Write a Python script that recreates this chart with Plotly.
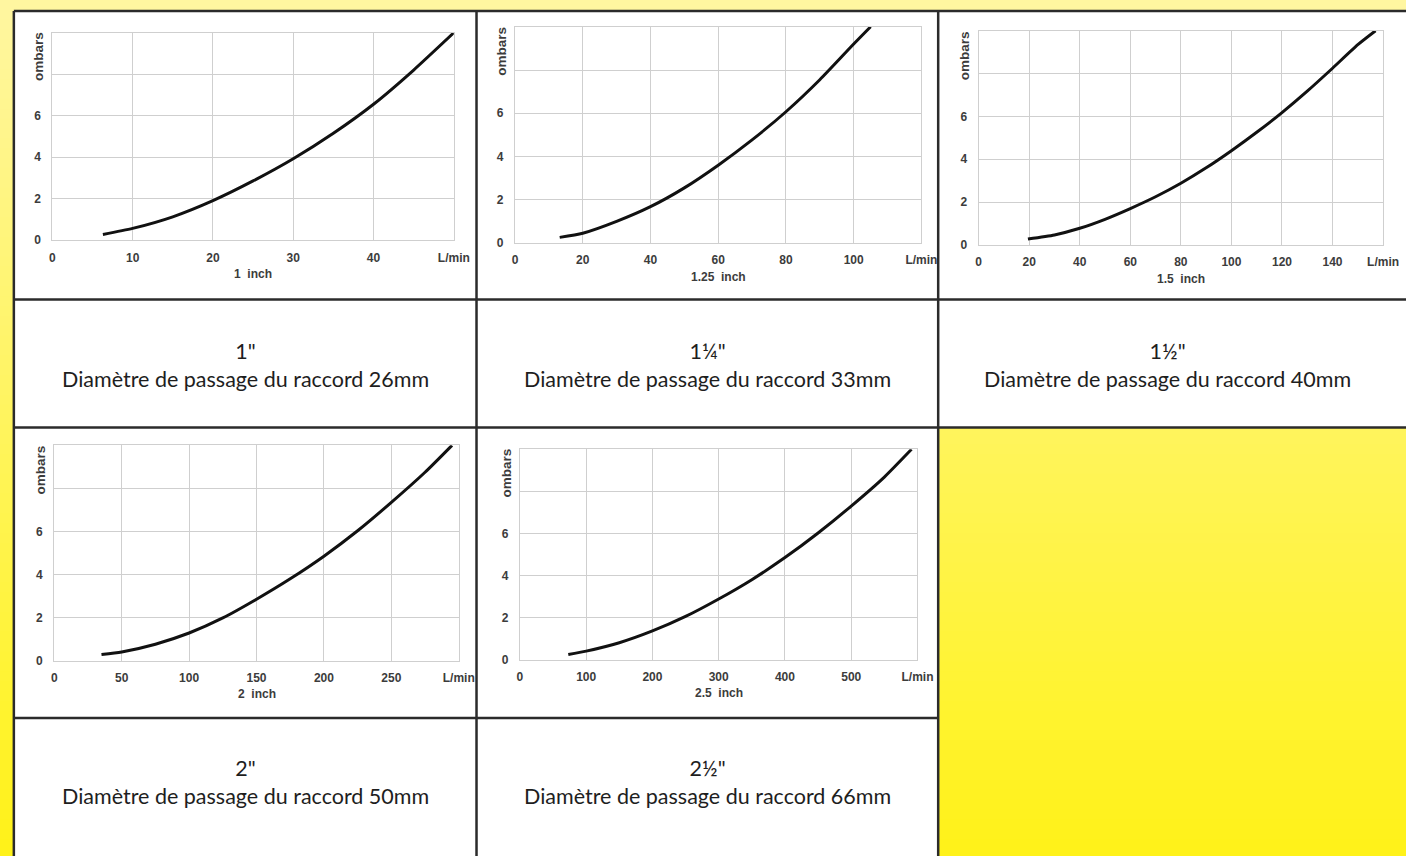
import plotly.graph_objects as go

W, H = 1406, 856

# ---- data (x: L/min, y: mbars) ----
q_1in = [6.3, 10, 15, 20, 25, 30, 35, 40, 45, 50]
dp_1in = [0.27, 0.56, 1.12, 1.9, 2.85, 3.92, 5.15, 6.55, 8.2, 10.0]

q_125in = [13.2, 20, 30, 40, 50, 60, 70, 80, 90, 100, 105]
dp_125in = [0.26, 0.45, 1.0, 1.68, 2.55, 3.6, 4.77, 6.07, 7.55, 9.2, 10.0]

q_15in = [19.5, 30, 40, 50, 60, 70, 80, 90, 100, 110, 120, 130, 140, 150, 157]
dp_15in = [0.28, 0.47, 0.78, 1.2, 1.7, 2.25, 2.88, 3.6, 4.4, 5.26, 6.18, 7.18, 8.25, 9.35, 10.0]

q_2in = [35, 50, 75, 100, 125, 150, 175, 200, 225, 250, 275, 295]
dp_2in = [0.28, 0.4, 0.76, 1.28, 1.98, 2.85, 3.8, 4.85, 6.03, 7.35, 8.75, 10.0]

q_25in = [73, 100, 150, 200, 250, 300, 350, 400, 450, 500, 550, 591]
dp_25in = [0.24, 0.4, 0.8, 1.36, 2.05, 2.88, 3.8, 4.85, 6.02, 7.3, 8.68, 10.0]

# tick labels
y_ticks = [0, 2, 4, 6, 8, 10]
y_labels = ["0", "2", "4", "6", "", ""]
x_ticks_1in = [0, 10, 20, 30, 40, 50]
x_ticks_125in = [0, 20, 40, 60, 80, 100, 120]
x_ticks_15in = [0, 20, 40, 60, 80, 100, 120, 140, 160]
x_ticks_2in = [0, 50, 100, 150, 200, 250, 300]
x_ticks_25in = [0, 100, 200, 300, 400, 500, 600]

chart_titles = ["1\u00a0 inch", "1.25\u00a0 inch", "1.5\u00a0 inch", "2\u00a0 inch", "2.5\u00a0 inch"]
cell_sizes = ['1"', '1¼"', '1½"', '2"', '2½"']
cell_bores = ["26mm", "33mm", "40mm", "50mm", "66mm"]

series = [
    (q_1in, dp_1in, x_ticks_1in),
    (q_125in, dp_125in, x_ticks_125in),
    (q_15in, dp_15in, x_ticks_15in),
    (q_2in, dp_2in, x_ticks_2in),
    (q_25in, dp_25in, x_ticks_25in),
]

# plot-area boxes in pixels: left, right, top, bottom
boxes = [
    (50, 457, 33, 242),
    (519, 931, 27, 245),
    (989, 1399, 31, 247),
    (52, 462, 449, 666),
    (524, 927, 453, 665),
]
# text cells: centre x, centre y
text_cells = [(246, 368), (714, 368), (1180, 368), (246, 788), (714, 788)]

X_EDGES = [11, 480, 948, 1430]
Y_EDGES = [11, 302, 431, 724, 870]


def fx(px):
    return px / W


def fy(py):
    return 1 - py / H


def blend(c0, c1, t):
    return "rgb(%d,%d,%d)" % tuple(round(a + (b - a) * t) for a, b in zip(c0, c1))


shapes = []
# yellow page gradient
n_bands = 86
top_col, bot_col = (255, 246, 160), (255, 242, 26)
for i in range(n_bands):
    y_top = fy(i * H / n_bands) + (0.02 if i == 0 else 0)
    y_bot = fy((i + 1) * H / n_bands) - (0.02 if i == n_bands - 1 else 0.001)
    shapes.append(dict(
        type="rect", xref="paper", yref="paper", layer="below",
        x0=-0.02, x1=1.02, y0=y_bot, y1=y_top,
        fillcolor=blend(top_col, bot_col, i / (n_bands - 1)), line_width=0,
    ))

# white table cells (third column of the lower rows stays yellow)
for r in range(4):
    ncols = 3 if r < 2 else 2
    for c in range(ncols):
        shapes.append(dict(
            type="rect", xref="paper", yref="paper", layer="below",
            x0=fx(X_EDGES[c]), x1=fx(X_EDGES[c + 1]),
            y0=fy(Y_EDGES[r + 1]), y1=fy(Y_EDGES[r]),
            fillcolor="white", line_width=0,
        ))

border = dict(color="#2b2b2b", width=2.5)
for y, xend in [(11, 1430), (302, 1430), (431, 1430), (724, 948)]:
    shapes.append(dict(type="line", xref="paper", yref="paper", layer="below",
                       x0=fx(11), x1=fx(xend), y0=fy(y), y1=fy(y), line=border))
for x in [11, 480, 948]:
    shapes.append(dict(type="line", xref="paper", yref="paper", layer="below",
                       x0=fx(x), x1=fx(x), y0=fy(11), y1=fy(870), line=border))

fig = go.Figure()
annotations = []
tick_font = dict(family="Liberation Sans, Arial, sans-serif", size=12,
                 color="#3c3c3c", weight="bold")
unit_font = dict(tick_font, size=13.5)
layout = {}

for i, ((xs, ys, xt), (l, r, t, b)) in enumerate(zip(series, boxes)):
    n = "" if i == 0 else str(i + 1)
    fig.add_trace(go.Scatter(
        x=xs, y=ys, mode="lines",
        line=dict(color="#111111", width=3, shape="spline", smoothing=0.6),
        xaxis="x" + n, yaxis="y" + n, showlegend=False, hoverinfo="skip",
    ))
    xlabels = [str(v) for v in xt[:-1]] + ["L/min"]
    layout["xaxis" + n] = dict(
        domain=[fx(l), fx(r)], anchor="y" + n, range=[0, xt[-1]],
        tickvals=xt, ticktext=xlabels, showgrid=True, gridcolor="#cfcfcf", gridwidth=1.2,
        zeroline=False, showline=True, mirror=True, linecolor="#cfcfcf", linewidth=1.2,
        ticks="", ticklabelstandoff=6, tickfont=tick_font, fixedrange=True,
    )
    layout["yaxis" + n] = dict(
        domain=[fy(b), fy(t)], anchor="x" + n, range=[0, 10],
        tickvals=y_ticks, ticktext=y_labels, showgrid=True, gridcolor="#cfcfcf", gridwidth=1.2,
        zeroline=False, showline=True, mirror=True, linecolor="#cfcfcf", linewidth=1.2,
        ticks="", ticklabelstandoff=8, tickfont=tick_font, fixedrange=True,
    )
    # rotated unit label sitting where the "8" tick would be
    annotations.append(dict(
        xref="paper", yref="paper", x=fx(l - 14), y=fy(t + (b - t) * 0.115),
        text="ombars", textangle=-90, showarrow=False, font=unit_font,
        xanchor="center", yanchor="middle",
    ))
    annotations.append(dict(
        xref="paper", yref="paper", x=fx((l + r) / 2), y=fy(b + 34),
        text=chart_titles[i], showarrow=False, font=tick_font,
        xanchor="center", yanchor="middle",
    ))
    cx, cy = text_cells[i]
    annotations.append(dict(
        xref="paper", yref="paper", x=fx(cx), y=fy(cy),
        text=f"{cell_sizes[i]}<br>Diamètre de passage du raccord {cell_bores[i]}",
        showarrow=False, align="center", xanchor="center", yanchor="middle",
        font=dict(family="Lato, Open Sans, sans-serif", size=21.5, color="#1e1e1e"),
    ))

fig.update_layout(
    width=W, height=H, margin=dict(l=0, r=0, t=0, b=0),
    paper_bgcolor="rgb(255,244,100)", plot_bgcolor="rgba(0,0,0,0)",
    shapes=shapes, annotations=annotations, **layout,
)
fig.write_html(
    "out.html",
    config={"displayModeBar": False},
    post_script="document.body.style.margin='0';document.body.style.overflow='hidden';",
)
